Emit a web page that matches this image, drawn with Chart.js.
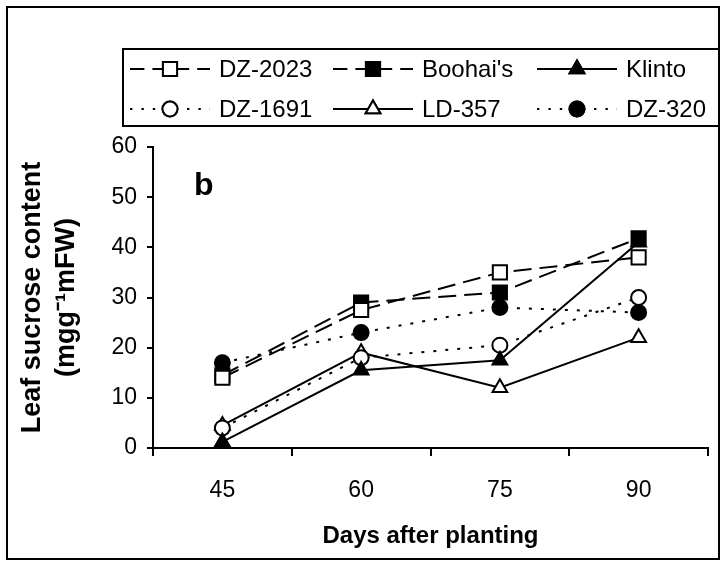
<!DOCTYPE html>
<html>
<head>
<meta charset="utf-8">
<script src="https://cdn.jsdelivr.net/npm/chart.js@4.4.1/dist/chart.umd.min.js"></script>
<style>
  html, body { margin: 0; padding: 0; background: #fff; }
  #wrap { width: 724px; height: 566px; }
</style>
</head>
<body>
<div id="wrap"><canvas id="sucroseChart" width="724" height="566"></canvas></div>
<script>
// Data
const days = ["45", "60", "75", "90"];
const dz2023 = [14, 27.5, 35, 38];
const boohais = [14.5, 29, 31, 41.8];
const klinto = [1.2, 15.5, 17.5, 41];
const dz1691 = [4, 18, 20.5, 30];
const ld357 = [4.5, 19, 12, 22];
const dz320 = [17, 23, 28, 27];
const yTicks = [0, 10, 20, 30, 40, 50, 60];

const FONT = "'Liberation Sans', Arial, sans-serif";
const DASH = [18, 8];
const DOT = [3, 9];

function series(label, data, dash, style, fill, r) {
  return {
    label: label,
    data: data,
    borderColor: "#000",
    borderWidth: 2,
    borderDash: dash,
    pointStyle: style,
    pointRadius: r,
    pointHoverRadius: r,
    pointBorderWidth: 2,
    pointBorderColor: "#000",
    pointBackgroundColor: fill,
    tension: 0,
    fill: false
  };
}

const datasets = [
  series("DZ-2023", dz2023, DASH, "rect", "#fff", 10),
  series("Boohai's", boohais, DASH, "rect", "#000", 10),
  series("Klinto", klinto, [], "triangle", "#000", 8.5),
  series("DZ-1691", dz1691, DOT, "circle", "#fff", 7.5),
  series("LD-357", ld357, [], "triangle", "#fff", 8.5),
  series("DZ-320", dz320, DOT, "circle", "#000", 7.5)
];

// outer frame, panel letter and the boxed two-row legend
const decorations = {
  id: "decorations",
  afterDraw(chart) {
    const ctx = chart.ctx;
    ctx.save();
    ctx.strokeStyle = "#000";
    ctx.lineWidth = 2;
    ctx.setLineDash([]);
    ctx.strokeRect(7, 7, 712, 552);

    ctx.fillStyle = "#000";
    ctx.font = "bold 32px " + FONT;
    ctx.textBaseline = "alphabetic";
    ctx.fillText("b", 194, 195);

    // legend box
    ctx.lineWidth = 2;
    ctx.strokeRect(123, 49, 596, 77);

    const rows = [69, 109];
    const cols = [130, 333, 537];
    ctx.textBaseline = "middle";
    chart.data.datasets.forEach((ds, i) => {
      const x = cols[i % 3];
      const y = rows[Math.floor(i / 3)];
      const lineLen = 80;
      ctx.strokeStyle = "#000";
      ctx.lineWidth = 2;
      ctx.setLineDash(ds.borderDash.length ? [ds.borderDash[0] * 0.8, ds.borderDash[1]] : []);
      ctx.beginPath();
      ctx.moveTo(x, y);
      ctx.lineTo(x + lineLen, y);
      ctx.stroke();
      ctx.setLineDash([]);
      Chart.helpers.drawPoint(ctx, {
        pointStyle: ds.pointStyle,
        radius: ds.pointRadius,
        borderWidth: 2
      }, x + 40, y);
      ctx.fillStyle = ds.pointBackgroundColor;
      ctx.fill();
      ctx.stroke();
      ctx.fillStyle = "#000";
      ctx.font = "24px " + FONT;
      ctx.fillText(ds.label, x + lineLen + 9, y + 1);
    });
    ctx.restore();
  }
};

const tickGrid = len => ({
  display: true,
  drawOnChartArea: false,
  drawTicks: true,
  tickLength: len,
  color: "#000",
  lineWidth: 2
});

new Chart(document.getElementById("sucroseChart"), {
  type: "line",
  data: { labels: days, datasets: datasets },
  plugins: [decorations],
  options: {
    responsive: false,
    animation: false,
    layout: { padding: { top: 147, right: 16, bottom: 10, left: 10 } },
    plugins: {
      legend: { display: false },
      tooltip: { enabled: false }
    },
    scales: {
      x: {
        offset: true,
        grid: Object.assign(tickGrid(8), { offset: true }),
        border: { color: "#000", width: 2 },
        ticks: { color: "#000", font: { family: FONT, size: 23 }, padding: 21 },
        afterFit: s => { s.height = 108; },
        title: {
          display: true,
          text: "Days after planting",
          color: "#000",
          font: { family: FONT, size: 24, weight: "bold" },
          padding: { top: 0, bottom: 5 }
        }
      },
      y: {
        min: 0,
        max: 60,
        afterBuildTicks: axis => { axis.ticks = yTicks.map(v => ({ value: v })); },
        afterFit: s => { s.width = 143; },
        grid: tickGrid(6),
        border: { color: "#000", width: 2 },
        ticks: { color: "#000", font: { family: FONT, size: 23 }, padding: 10 },
        title: {
          display: true,
          text: ["Leaf sucrose content", "(mgg\u207B\u00B9mFW)"],
          color: "#000",
          font: { family: FONT, size: 27, weight: "bold", lineHeight: 1.25 },
          padding: { top: 6, bottom: 0 }
        }
      }
    }
  }
});
</script>
</body>
</html>
